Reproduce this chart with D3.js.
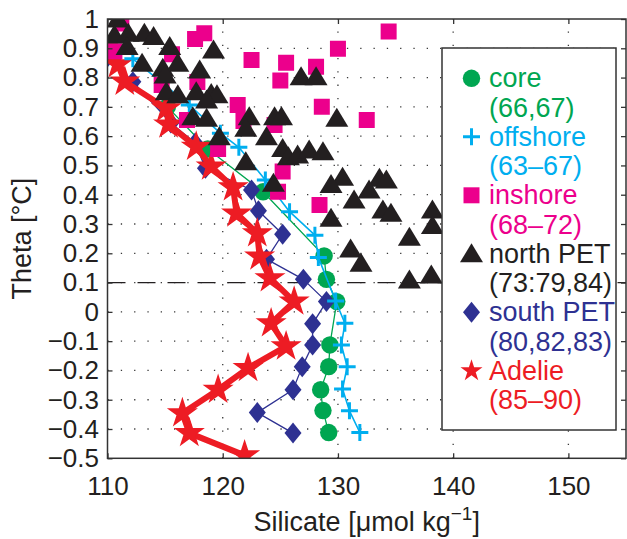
<!DOCTYPE html>
<html>
<head>
<meta charset="utf-8">
<script src="https://cdn.jsdelivr.net/npm/d3@7"></script>
<style>
  html, body { margin: 0; padding: 0; background: #fff; }
  svg { display: block; font-family: "Liberation Sans", Arial, Helvetica, sans-serif; }
</style>
</head>
<body>
<svg id="chart" width="627" height="539"></svg>
<script>
// ---- axis ticks ----
const xTicks = [110, 120, 130, 140, 150];
const xTickLabels = ["110", "120", "130", "140", "150"];
const yTicks = [-0.5, -0.4, -0.3, -0.2, -0.1, 0, 0.1, 0.2, 0.3, 0.4, 0.5, 0.6, 0.7, 0.8, 0.9, 1];
const yTickLabels = ["\u22120.5", "\u22120.4", "\u22120.3", "\u22120.2", "\u22120.1", "0",
  "0.1", "0.2", "0.3", "0.4", "0.5", "0.6", "0.7", "0.8", "0.9", "1"];
const refTheta = [0.1];

// ---- series: silicate (umol/kg) and potential temperature (deg C) ----
const coreSi    = [115.2, 118.7, 123.5, 128.8, 129.0, 129.9, 129.3, 129.2, 128.5, 128.7, 129.2];
const coreTheta = [0.70, 0.556, 0.41, 0.191, 0.111, 0.035, -0.113, -0.187, -0.266, -0.337, -0.412];

const offshoreSi    = [112.2, 117.1, 119.8, 121.4, 123.7, 125.8, 128.0, 128.3, 129.8, 130.6, 130.3, 130.8, 130.4, 131.0, 131.9];
const offshoreTheta = [0.864, 0.706, 0.61, 0.562, 0.45, 0.342, 0.262, 0.186, 0.037, -0.039, -0.113, -0.187, -0.263, -0.338, -0.412];

const inshoreSi    = [111.2, 110.6, 115.6, 117.6, 118.4, 122.5, 125.5, 128.1, 125.0, 117.8, 114.7,
  121.3, 128.6, 121.8, 116.9, 124.5, 119.6, 125.2, 124.8, 128.4, 130.0, 134.4, 132.5];
const inshoreTheta = [0.985, 0.89, 0.88, 0.932, 0.951, 0.86, 0.851, 0.837, 0.79, 0.785, 0.775,
  0.706, 0.70, 0.652, 0.655, 0.638, 0.556, 0.479, 0.41, 0.365, 0.898, 0.957, 0.655];

const northSi = [110.9, 110.6, 111.8, 113.2, 114.0, 111.7, 115.4, 119.2, 113.0, 114.8, 116.1, 115.0, 118.0,
  115.1, 116.1, 117.7, 119.0, 119.5, 118.6, 117.4, 118.6, 122.3, 122.0, 124.5, 125.1, 129.9, 119.7, 123.8,
  125.2, 125.7, 126.5, 127.5, 128.7, 122.0, 124.4, 130.4, 129.4, 129.4, 126.8, 128.1, 133.6, 134.2,
  132.7, 131.4, 133.9, 134.6, 138.2, 138.2, 136.2, 131.1, 132.0, 136.2, 138.1];
const northTheta = [1.0, 0.945, 0.951, 0.951, 0.94, 0.906, 0.906, 0.894, 0.849, 0.832, 0.849, 0.809, 0.826,
  0.752, 0.741, 0.752, 0.746, 0.741, 0.723, 0.666, 0.661, 0.666, 0.627, 0.666, 0.666, 0.661, 0.598, 0.598,
  0.558, 0.53, 0.536, 0.553, 0.547, 0.513, 0.439, 0.46, 0.435, 0.32, 0.803, 0.803, 0.456, 0.45,
  0.416, 0.382, 0.348, 0.337, 0.348, 0.295, 0.255, 0.215, 0.166, 0.109, 0.126];

const southSi    = [110.0, 112.2, 115.5, 117.6, 118.5, 122.5, 123.1, 125.2, 123.8, 127.0, 129.0, 127.8, 127.8, 126.9, 126.1, 123.0, 126.1];
const southTheta = [0.87, 0.786, 0.645, 0.577, 0.49, 0.416, 0.345, 0.265, 0.18, 0.111, 0.035, -0.041, -0.113, -0.187, -0.266, -0.344, -0.414];

const adelieSi    = [109.6, 110.9, 111.5, 115.1, 115.3, 117.7, 119.0, 120.9, 121.2, 123.0, 123.2, 124.1, 126.2, 124.2, 125.5, 122.2, 119.6, 116.5, 117.1, 121.9];
const adelieTheta = [0.9, 0.845, 0.786, 0.695, 0.64, 0.564, 0.496, 0.425, 0.336, 0.268, 0.189, 0.115, 0.035, -0.039, -0.118, -0.192, -0.266, -0.346, -0.414, -0.49];

// ---- legend text ----
const legendNames    = ["core", "offshore", "inshore", "north PET", "south PET", "Adelie"];
const legendStations = ["(66,67)", "(63\u201367)", "(68\u201372)", "(73:79,84)", "(80,82,83)", "(85\u201390)"];

// ---- styling ----
const colors = {
  core: "#00a651", offshore: "#00aeef", inshore: "#ec008c",
  north: "#231f20", south: "#2e3192", adelie: "#ed1c24"
};
const ink = "#231f20";
const axisInk = "#333";

const svg = d3.select("#chart");
const L = 107.5, R = 626, T = 19, B = 458.3;
const x = d3.scaleLinear().domain([110, 155]).range([L, R]);
const y = d3.scaleLinear().domain([-0.5, 1]).range([B, T]);

// marker paths
const markerPath = {
  square: "M-8,-8H8V8H-8Z",
  triangle: "M0,-10.5L11.5,8.5L-11.5,8.5Z",
  diamond: "M0,-10.5L8.5,0L0,10.5L-8.5,0Z",
  plus: "M-8.5,0H8.5M0,-8.5V8.5",
  star: d3.symbol(d3.symbolStar, 300)(),
  legendStar: d3.symbol(d3.symbolStar, 150)()
};

function drawMarker(g, kind, color) {
  if (kind === "circle") {
    g.append("circle").attr("r", 8.7).attr("fill", color);
  } else if (kind === "plus") {
    g.append("path").attr("d", markerPath.plus).attr("fill", "none")
      .attr("stroke", color).attr("stroke-width", 3);
  } else {
    g.append("path").attr("d", markerPath[kind]).attr("fill", color);
  }
}

// clip region for data
svg.append("clipPath").attr("id", "plotClip")
  .append("rect").attr("x", L).attr("y", T).attr("width", R - L).attr("height", B - T);

// ---- dotted grid ----
const grid = svg.append("g")
  .attr("stroke", "#3a3a3a").attr("stroke-width", 1.3).attr("stroke-dasharray", "1.3,12");
grid.selectAll("line.v").data(xTicks.filter(v => v > 110)).join("line").attr("class", "v")
  .attr("x1", d => x(d)).attr("x2", d => x(d)).attr("y1", B).attr("y2", T);
grid.selectAll("line.h").data(yTicks.filter(v => v > -0.5 && v < 1)).join("line").attr("class", "h")
  .attr("x1", L).attr("x2", R).attr("y1", d => y(d)).attr("y2", d => y(d));

const plot = svg.append("g").attr("clip-path", "url(#plotClip)");

// dashed reference isotherm
plot.selectAll("line.ref").data(refTheta).join("line").attr("class", "ref")
  .attr("x1", x(110)).attr("x2", x(155)).attr("y1", d => y(d)).attr("y2", d => y(d))
  .attr("stroke", ink).attr("stroke-width", 1.4).attr("stroke-dasharray", "18,12");

const line = d3.line().x(d => x(d[0])).y(d => y(d[1]));

function series(si, th, kind, color, lineWidth) {
  const pts = si.map((s, i) => [s, th[i]]);
  const g = plot.append("g");
  if (lineWidth) {
    g.append("path").datum(pts).attr("d", line).attr("fill", "none")
      .attr("stroke", color).attr("stroke-width", lineWidth).attr("stroke-linejoin", "round");
  }
  g.selectAll("g.m").data(pts).join("g").attr("class", "m")
    .attr("transform", d => `translate(${x(d[0])},${y(d[1])})`)
    .each(function () { drawMarker(d3.select(this), kind, color); });
}

series(coreSi, coreTheta, "circle", colors.core, 1.3);
series(southSi, southTheta, "diamond", colors.south, 1.3);
series(adelieSi, adelieTheta, "star", colors.adelie, 6);
series(offshoreSi, offshoreTheta, "plus", colors.offshore, 1.6);
series(inshoreSi, inshoreTheta, "square", colors.inshore, 0);
series(northSi, northTheta, "triangle", colors.north, 0);

// ---- axes ----
function styleAxis(g) {
  g.select(".domain").remove();
  g.selectAll(".tick line").attr("stroke", axisInk).attr("stroke-width", 1.3);
  g.selectAll(".tick text").attr("fill", ink);
  g.attr("font-size", 26).attr("font-family", "'Liberation Sans', Arial, Helvetica, sans-serif");
}

svg.append("g").attr("transform", `translate(0,${B})`)
  .call(d3.axisBottom(x).tickValues(xTicks).tickFormat((d, i) => xTickLabels[i]).tickSize(-5).tickPadding(18))
  .call(styleAxis);
svg.append("g").attr("transform", `translate(0,${T})`)
  .call(d3.axisTop(x).tickValues(xTicks).tickFormat("").tickSize(-5))
  .call(styleAxis);
svg.append("g").attr("transform", `translate(${L},0)`)
  .call(d3.axisLeft(y).tickValues(yTicks).tickFormat((d, i) => yTickLabels[i]).tickSize(-5).tickPadding(8.5))
  .call(styleAxis);
svg.append("g").attr("transform", `translate(${R},0)`)
  .call(d3.axisRight(y).tickValues(yTicks).tickFormat("").tickSize(-5))
  .call(styleAxis);

svg.append("rect").attr("x", L).attr("y", T).attr("width", R - L).attr("height", B - T)
  .attr("fill", "none").attr("stroke", axisInk).attr("stroke-width", 1.5);

// ---- axis titles ----
const xTitle = svg.append("text").attr("x", (L + R) / 2).attr("y", 531)
  .attr("text-anchor", "middle").attr("font-size", 27).attr("fill", ink);
xTitle.append("tspan").text("Silicate [\u03bcmol kg");
xTitle.append("tspan").attr("font-size", 19).attr("dy", -11).text("\u22121");
xTitle.append("tspan").attr("dy", 11).text("]");

svg.append("text").attr("transform", `translate(31,${(T + B) / 2}) rotate(-90)`)
  .attr("text-anchor", "middle").attr("font-size", 27).attr("fill", ink)
  .text("Theta [\u00b0C]");

// ---- legend ----
const legend = svg.append("g");
legend.append("rect").attr("x", 442).attr("y", 48).attr("width", 174).attr("height", 382)
  .attr("fill", "#fff").attr("stroke", axisInk).attr("stroke-width", 1.5);
const legendKinds = ["circle", "plus", "square", "triangle", "diamond", "legendStar"];
const legendColors = [colors.core, colors.offshore, colors.inshore, colors.north, colors.south, colors.adelie];
const rowH = 29.25, row0 = 78.3;
legendNames.forEach((name, i) => {
  const cy = row0 + rowH * 2 * i;
  const m = legend.append("g").attr("transform", `translate(471.5,${cy})`);
  drawMarker(m, legendKinds[i], legendColors[i]);
  legend.append("text").attr("x", 489).attr("y", cy + 9).attr("font-size", 27)
    .attr("fill", legendColors[i]).text(name);
  legend.append("text").attr("x", 489).attr("y", cy + rowH + 9).attr("font-size", 27)
    .attr("fill", legendColors[i]).text(legendStations[i]);
});
</script>
</body>
</html>
